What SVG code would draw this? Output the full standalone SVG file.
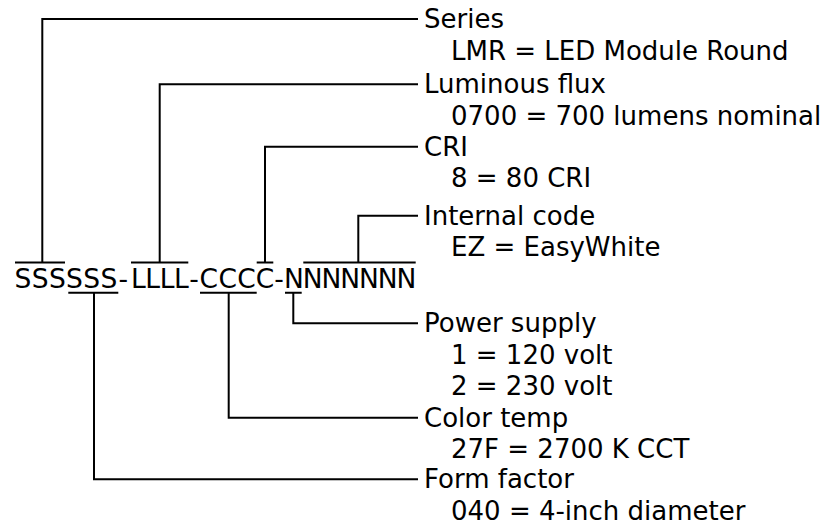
<svg xmlns="http://www.w3.org/2000/svg" width="830" height="527" viewBox="0 0 830 527">
<style>
text { font-family: "DejaVu Sans", Verdana, sans-serif; font-size: 26px; fill: #000; }
#code text { font-size: 26.5px; }
.c { fill: none; stroke: #000; stroke-width: 2; }
</style>
<rect width="830" height="527" fill="#fff"/>
<g id="code">
<text y="288.3" x="14.5 31.7 48.9 66.1 83.3 100.5 118.5 131 145.3 159.7 174 189.3 199.5 218.4 237.3 255.8 274.2 284 302.8 321.5 340.3 359 377.7 396.5">SSSSSS-LLLL-CCCC-NNNNNNN</text>
</g>
<g id="connectors" class="c">
<path d="M15 262.5H65 M131 262.5H188.3 M256.7 262.5H273.3 M303.3 262.5H415.7"/>
<path d="M68.3 292.7H118.3 M200 292.7H256.7 M285 292.7H301.7"/>
<path d="M42.3 262.5V19H418"/>
<path d="M159.7 262.5V84.3H418"/>
<path d="M265 262.5V146.7H418"/>
<path d="M358.3 262.5V215.7H418"/>
<path d="M293.3 292.7V323.3H418"/>
<path d="M228.7 292.7V417.7H418"/>
<path d="M94 292.7V479.3H418"/>
</g>
<g id="series">
<text x="424" y="28">Series</text>
<text x="451" y="59.5">LMR = LED Module Round</text>
</g>
<g id="luminous-flux">
<text x="424" y="93.3">Luminous flux</text>
<text x="451" y="124.8">0700 = 700 lumens nominal</text>
</g>
<g id="cri">
<text x="424" y="155.7">CRI</text>
<text x="451" y="187.2">8 = 80 CRI</text>
</g>
<g id="internal-code">
<text x="424" y="224.7">Internal code</text>
<text x="451" y="256.2">EZ = EasyWhite</text>
</g>
<g id="power-supply">
<text x="424" y="332.3">Power supply</text>
<text x="451" y="363.8">1 = 120 volt</text>
<text x="451" y="395.3">2 = 230 volt</text>
</g>
<g id="color-temp">
<text x="424" y="426.7">Color temp</text>
<text x="451" y="458.2">27F = 2700 K CCT</text>
</g>
<g id="form-factor">
<text x="424" y="488.3">Form factor</text>
<text x="451" y="519.8">040 = 4-inch diameter</text>
</g>
</svg>
